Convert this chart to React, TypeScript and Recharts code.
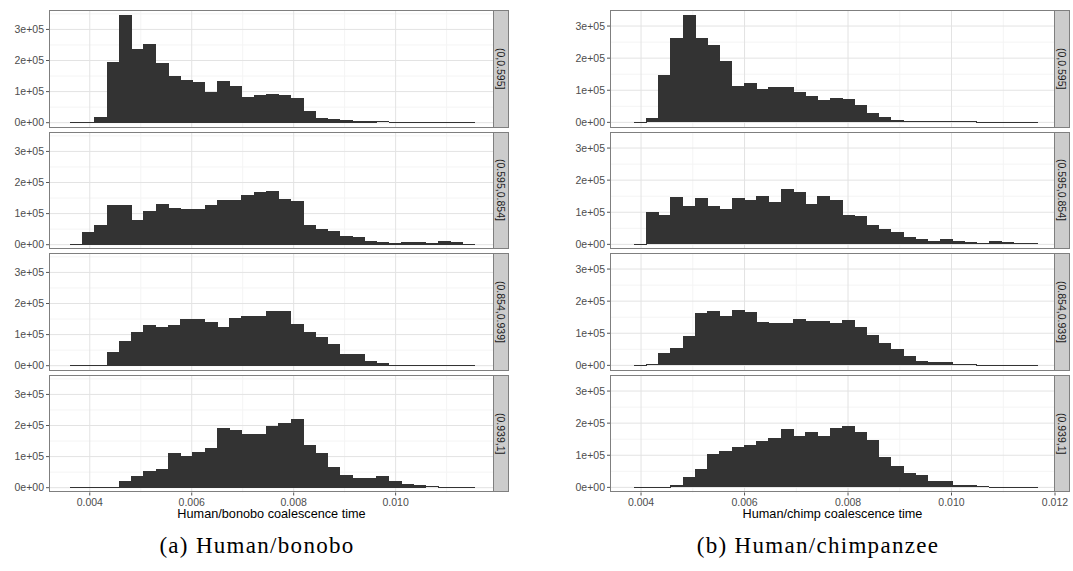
import { BarChart, Bar, XAxis, YAxis, CartesianGrid } from "recharts";

// histogram bins (33 per panel)
const bonoboBinStart = 0.003606;
const bonoboBinWidth = 0.0002407;
const chimpBinStart = 0.00386;
const chimpBinWidth = 0.0002364;

const bonoboLow = [0, 0, 18000, 195000, 346000, 237000, 253000, 192000, 150000, 137000, 131000, 98000, 134000, 118000, 83000, 89000, 92000, 88000, 79000, 37000, 15000, 11000, 8000, 5000, 4000, 2000, 1500, 1200, 1000, 800, 600, 400, 300];
const bonoboMid = [0, 40000, 63000, 129000, 129000, 80000, 109000, 132000, 119000, 116000, 116000, 129000, 145000, 145000, 161000, 171000, 174000, 148000, 139000, 63000, 50000, 44000, 27000, 24000, 11000, 8000, 5000, 8000, 8000, 4000, 11000, 8000, 1000];
const bonoboHigh = [0, 0, 0, 44000, 81000, 109000, 132000, 125000, 132000, 151000, 151000, 141000, 125000, 155000, 161000, 161000, 177000, 177000, 135000, 109000, 93000, 70000, 38000, 38000, 15000, 9000, 1000, 800, 600, 500, 400, 300, 200];
const bonoboTop = [0, 0, 0, 0, 22000, 38000, 54000, 60000, 112000, 102000, 115000, 128000, 193000, 184000, 174000, 174000, 200000, 209000, 222000, 138000, 112000, 67000, 41000, 31000, 31000, 38000, 22000, 12000, 9000, 3000, 1000, 500, 300];

const chimpLow = [0, 14000, 147000, 262000, 333000, 262000, 240000, 191000, 113000, 123000, 104000, 110000, 110000, 95000, 82000, 70000, 76000, 73000, 55000, 30000, 17000, 8000, 5000, 4000, 2000, 1500, 1200, 1000, 800, 600, 500, 400, 300];
const chimpMid = [0, 100000, 90000, 146000, 118000, 143000, 121000, 109000, 143000, 137000, 150000, 131000, 174000, 162000, 127000, 150000, 137000, 90000, 87000, 59000, 47000, 40000, 22000, 16000, 9000, 16000, 9000, 6000, 3000, 9000, 6000, 3000, 1000];
const chimpHigh = [0, 4000, 39000, 55000, 92000, 163000, 170000, 154000, 173000, 166000, 135000, 132000, 132000, 145000, 139000, 139000, 132000, 142000, 120000, 95000, 70000, 52000, 30000, 14000, 11000, 11000, 5000, 1000, 800, 600, 500, 400, 300];
const chimpTop = [0, 0, 0, 7000, 32000, 57000, 103000, 112000, 127000, 131000, 143000, 155000, 183000, 159000, 174000, 159000, 186000, 192000, 174000, 146000, 94000, 66000, 44000, 38000, 20000, 20000, 7000, 7000, 1000, 800, 600, 500, 300];

const stripLabels = ["(0,0.595]", "(0.595,0.854]", "(0.854,0.939]", "(0.939,1]"];

const yTicks = [0, 100000, 200000, 300000];
const yMinor = [50000, 150000, 250000, 350000];
const bonoboXTicks = [0.004, 0.006, 0.008, 0.01];
const chimpXTicks = [0.004, 0.006, 0.008, 0.01, 0.012];
const xMinor = [0.005, 0.007, 0.009, 0.011];

const FONT = "'Liberation Sans', Arial, Helvetica, sans-serif";
const PANEL_TOP = 10;
const PANEL_PITCH = 121.5;
const PANEL_H = 117.5;
const PLOT_LEFT = 49;
const PLOT_W = 445;
const STRIP_W = 15;
const RIGHT_PAD = 20;

const fmtY = (v: number) => (v === 0 ? "0e+00" : `${v / 100000}e+05`);
const fmtX = (v: number) => v.toFixed(3);

// bars overlap by ~1px so no seams show between neighbouring bins
const HistBar = (props: any) => {
  const { x, y, width, height } = props;
  if (!(height >= 1)) {
    return <rect x={x} y={y - 0.6} width={width + 1} height={1} fill="#333333" shapeRendering="crispEdges" />;
  }
  return <rect x={x} y={y} width={width + 1} height={height} fill="#333333" shapeRendering="crispEdges" />;
};

interface PanelProps {
  counts: number[];
  binStart: number;
  binWidth: number;
  xDomain: [number, number];
  yDomain: [number, number];
  xTicks: number[];
  top: number;
  showX: boolean;
  strip: string;
}

const Panel = ({ counts, binStart, binWidth, xDomain, yDomain, xTicks, top, showX, strip }: PanelProps) => {
  const data = counts.map((count, i) => ({ mid: binStart + (i + 0.5) * binWidth, count }));
  const h = PANEL_H + (showX ? 26 : 0);
  const w = PLOT_LEFT + PLOT_W + RIGHT_PAD;
  return (
    <>
      <div style={{ position: "absolute", left: 0, top, width: w, height: h }}>
        <BarChart
          width={w}
          height={h}
          data={data}
          margin={{ top: 0, right: RIGHT_PAD, bottom: 0, left: 0 }}
          barCategoryGap={0}
          barGap={0}
        >
          <CartesianGrid stroke="#f4f4f4" horizontalValues={yMinor} verticalValues={xMinor} />
          <CartesianGrid stroke="#e3e3e3" horizontalValues={yTicks} verticalValues={xTicks} />
          <XAxis
            type="number"
            dataKey="mid"
            domain={xDomain}
            allowDataOverflow
            ticks={xTicks}
            tickFormatter={fmtX}
            hide={!showX}
            height={26}
            axisLine={false}
            tickSize={3}
            tickMargin={3}
            tickLine={{ stroke: "#555" }}
            tick={{ fontSize: 10.5, fill: "#4d4d4d", fontFamily: FONT }}
            interval={0}
          />
          <YAxis
            type="number"
            domain={yDomain}
            allowDataOverflow
            ticks={yTicks}
            tickFormatter={fmtY}
            width={PLOT_LEFT}
            axisLine={false}
            tickSize={3}
            tickMargin={2}
            tickLine={{ stroke: "#555" }}
            tick={{ fontSize: 10.5, fill: "#4d4d4d", fontFamily: FONT }}
            interval={0}
          />
          <Bar dataKey="count" fill="#333333" shape={HistBar} isAnimationActive={false} />
        </BarChart>
      </div>
      <div
        style={{
          position: "absolute",
          left: PLOT_LEFT,
          top,
          width: PLOT_W,
          height: PANEL_H,
          border: "1px solid #7f7f7f",
          boxSizing: "border-box",
          pointerEvents: "none",
        }}
      />
      <div
        style={{
          position: "absolute",
          left: PLOT_LEFT + PLOT_W - 1,
          top,
          width: STRIP_W + 1,
          height: PANEL_H,
          background: "#cccccc",
          border: "1px solid #7f7f7f",
          boxSizing: "border-box",
          display: "flex",
          alignItems: "center",
          justifyContent: "center",
          writingMode: "vertical-rl",
          fontFamily: FONT,
          fontSize: 10.5,
          color: "#1a1a1a",
        }}
      >
        {strip}
      </div>
    </>
  );
};

interface FigureProps {
  left: number;
  panels: number[][];
  binStart: number;
  binWidth: number;
  xDomain: [number, number];
  yDomain: [number, number];
  xTicks: number[];
  xTitle: string;
  caption: string;
}

const Figure = ({ left, panels, binStart, binWidth, xDomain, yDomain, xTicks, xTitle, caption }: FigureProps) => (
  <div style={{ position: "absolute", left, top: 0, width: 512, height: 571 }}>
    {panels.map((counts, i) => (
      <Panel
        key={i}
        counts={counts}
        binStart={binStart}
        binWidth={binWidth}
        xDomain={xDomain}
        yDomain={yDomain}
        xTicks={xTicks}
        top={PANEL_TOP + i * PANEL_PITCH}
        showX={i === panels.length - 1}
        strip={stripLabels[i]}
      />
    ))}
    <div
      style={{
        position: "absolute",
        left: PLOT_LEFT,
        width: PLOT_W,
        top: 507,
        textAlign: "center",
        fontFamily: FONT,
        fontSize: 12.7,
        color: "#000",
      }}
    >
      {xTitle}
    </div>
    <div
      style={{
        position: "absolute",
        left: 0,
        width: 514,
        top: 533,
        textAlign: "center",
        fontFamily: "'Liberation Serif', 'Times New Roman', serif",
        fontSize: 23,
        letterSpacing: 1.3,
        color: "#000",
        whiteSpace: "nowrap",
      }}
    >
      {caption}
    </div>
  </div>
);

export default function App() {
  return (
    <div style={{ position: "absolute", left: 0, top: 0, width: 1073, height: 571, background: "#fff", overflow: "hidden" }}>
      <Figure
        left={0}
        panels={[bonoboLow, bonoboMid, bonoboHigh, bonoboTop]}
        binStart={bonoboBinStart}
        binWidth={bonoboBinWidth}
        xDomain={[0.0032, 0.01193]}
        yDomain={[-15500, 362500]}
        xTicks={bonoboXTicks}
        xTitle="Human/bonobo coalescence time"
        caption="(a) Human/bonobo"
      />
      <Figure
        left={561}
        panels={[chimpLow, chimpMid, chimpHigh, chimpTop]}
        binStart={chimpBinStart}
        binWidth={chimpBinWidth}
        xDomain={[0.0034, 0.012]}
        yDomain={[-16000, 350000]}
        xTicks={chimpXTicks}
        xTitle="Human/chimp coalescence time"
        caption="(b) Human/chimpanzee"
      />
    </div>
  );
}
